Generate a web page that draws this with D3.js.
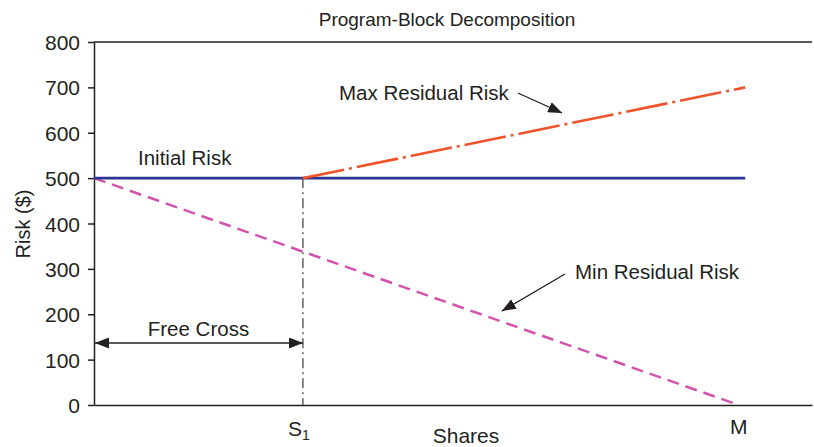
<!DOCTYPE html>
<html>
<head>
<meta charset="utf-8">
<script src="https://cdn.jsdelivr.net/npm/d3@7"></script>
<style>
  body { margin: 0; background: #fff; }
  text { font-family: Arial, "Liberation Sans", sans-serif; fill: #231f20; }
</style>
</head>
<body>
<svg width="814" height="447"></svg>
<script>
// shares on a 0..100 scale, risk in $
const yTicks = [0, 100, 200, 300, 400, 500, 600, 700, 800];
const shareMarks = [29.1, 89.8];          // S1, M
const shareLabels = ["S", "M"];
const shareSubs = ["1", ""];

const initialRisk = [{ s: 0, r: 500 }, { s: 90.7, r: 500 }];
const maxResidual = [{ s: 29.1, r: 500 }, { s: 90.7, r: 700 }];
const minResidual = [{ s: 0, r: 500 }, { s: 89.8, r: 0 }];

const svg = d3.select("svg");
const ink = "#231f20";

const x = d3.scaleLinear().domain([0, 100]).range([94, 812]);
const y = d3.scaleLinear().domain([0, 800]).range([405, 42]);

// arrow heads
const defs = svg.append("defs");
defs.append("marker")
    .attr("id", "head")
    .attr("viewBox", "0 0 14 11")
    .attr("refX", 14)
    .attr("refY", 5.5)
    .attr("markerWidth", 14)
    .attr("markerHeight", 11)
    .attr("markerUnits", "userSpaceOnUse")
    .attr("orient", "auto-start-reverse")
    .append("path")
    .attr("d", "M0,0 L14,5.5 L0,11 Z")
    .attr("fill", ink);

// title
svg.append("text")
    .attr("x", 447)
    .attr("y", 26)
    .attr("text-anchor", "middle")
    .style("font-size", "19px")
    .text("Program-Block Decomposition");

// frame top
svg.append("line")
    .attr("x1", x(0)).attr("x2", x(100))
    .attr("y1", y(800)).attr("y2", y(800))
    .attr("stroke", ink).attr("stroke-width", 1.5);

// y axis
const yAxis = d3.axisLeft(y)
    .tickValues(yTicks)
    .tickSize(6)
    .tickSizeOuter(0)
    .tickPadding(8);

const gy = svg.append("g")
    .attr("transform", `translate(${x(0)},0)`)
    .call(yAxis);
gy.selectAll("path, line").attr("stroke", ink).attr("stroke-width", 1.5);
gy.selectAll("text")
    .style("font-size", "21px")
    .attr("fill", ink)
    .attr("dy", "0.36em");

// x axis
const xAxis = d3.axisBottom(x)
    .tickValues(shareMarks)
    .tickSize(0)
    .tickSizeOuter(0)
    .tickFormat("");

const gx = svg.append("g")
    .attr("transform", `translate(0,${y(0)})`)
    .call(xAxis);
gx.selectAll("path").attr("stroke", ink).attr("stroke-width", 1.5);

const xl = svg.selectAll(".xlab")
    .data(shareMarks)
    .enter()
    .append("text")
    .attr("class", "xlab")
    .attr("x", (d, i) => x(d) + (shareSubs[i] ? -4 : 0))
    .attr("y", (d, i) => shareSubs[i] ? 436 : 434)
    .attr("text-anchor", "middle")
    .style("font-size", "21px");
xl.append("tspan").text((d, i) => shareLabels[i]);
xl.append("tspan")
    .style("font-size", "14px")
    .attr("dy", 4)
    .text((d, i) => shareSubs[i]);

// axis titles
svg.append("text")
    .attr("x", 466)
    .attr("y", 443)
    .attr("text-anchor", "middle")
    .style("font-size", "21px")
    .text("Shares");

svg.append("text")
    .attr("transform", "rotate(-90)")
    .attr("x", -224)
    .attr("y", 30)
    .attr("text-anchor", "middle")
    .style("font-size", "20px")
    .text("Risk ($)");

const line = d3.line()
    .x(d => x(d.s))
    .y(d => y(d.r));

// S1 guide
svg.append("line")
    .attr("x1", x(shareMarks[0])).attr("x2", x(shareMarks[0]))
    .attr("y1", y(500)).attr("y2", y(0))
    .attr("stroke", "#3a3a3a")
    .attr("stroke-width", 1.2)
    .attr("stroke-dasharray", "10,4,2,4");

// series
svg.append("path")
    .datum(minResidual)
    .attr("d", line)
    .attr("fill", "none")
    .attr("stroke", "#d352ad")
    .attr("stroke-width", 2.5)
    .attr("stroke-dasharray", "12,7");

svg.append("path")
    .datum(initialRisk)
    .attr("d", line)
    .attr("fill", "none")
    .attr("stroke", "#2a3494")
    .attr("stroke-width", 2.8);

svg.append("path")
    .datum(maxResidual)
    .attr("d", line)
    .attr("fill", "none")
    .attr("stroke", "#f0522a")
    .attr("stroke-width", 2.6)
    .attr("stroke-dasharray", "42,5,3,5");

// annotations
svg.append("text")
    .attr("x", 138).attr("y", 165)
    .style("font-size", "20.5px")
    .text("Initial Risk");

svg.append("text")
    .attr("x", 339).attr("y", 100)
    .style("font-size", "20.5px")
    .text("Max Residual Risk");

svg.append("line")
    .attr("x1", x(59.05)).attr("y1", y(687.6))
    .attr("x2", x(65.2)).attr("y2", y(643.5))
    .attr("stroke", ink).attr("stroke-width", 1.3)
    .attr("marker-end", "url(#head)");

svg.append("text")
    .attr("x", 575).attr("y", 279)
    .style("font-size", "20.5px")
    .text("Min Residual Risk");

svg.append("line")
    .attr("x1", x(65.6)).attr("y1", y(288.7))
    .attr("x2", x(56.8)).attr("y2", y(207))
    .attr("stroke", ink).attr("stroke-width", 1.3)
    .attr("marker-end", "url(#head)");

svg.append("text")
    .attr("x", (x(0) + x(shareMarks[0])) / 2).attr("y", 336)
    .attr("text-anchor", "middle")
    .style("font-size", "20.5px")
    .text("Free Cross");

svg.append("line")
    .attr("x1", x(0) + 1).attr("y1", 343)
    .attr("x2", x(shareMarks[0])).attr("y2", 343)
    .attr("stroke", ink).attr("stroke-width", 1.3)
    .attr("marker-start", "url(#head)")
    .attr("marker-end", "url(#head)");
</script>
</body>
</html>
